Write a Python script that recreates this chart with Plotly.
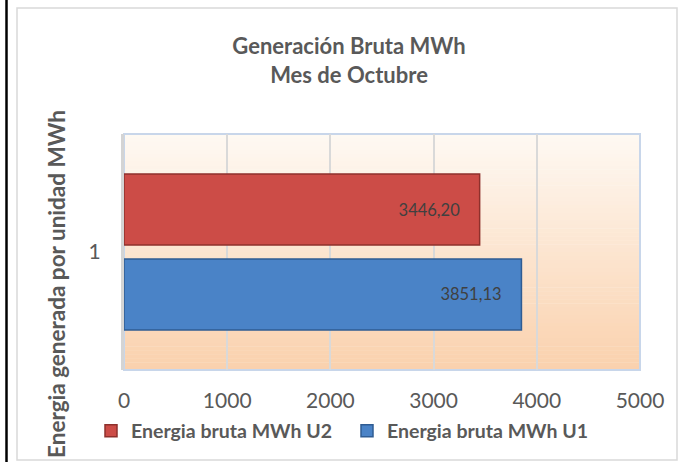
import plotly.graph_objects as go

categories = ["1"]
series_names = ["Energia bruta MWh U1", "Energia bruta MWh U2"]
u1_values = [3851.13]
u2_values = [3446.20]
x_ticks = [0, 1000, 2000, 3000, 4000, 5000]

title_text = "Generación Bruta MWh<br>Mes de Octubre"
y_title = "Energia generada por unidad MWh"

W, H = 679, 462
L, R, T, B = 124, 640, 134, 370

def px(x):
    return (x - L) / (R - L)

def py(y):
    return (B - y) / (B - T)

fig = go.Figure()
fig.add_trace(go.Bar(
    y=categories, x=u1_values, name=series_names[0], orientation="h",
    marker=dict(color="#4a83c7", line=dict(color="#2f5c93", width=1.5)),
    texttemplate="%{x:.2f}\u00a0\u00a0\u00a0\u00a0", textposition="inside",
    insidetextanchor="end",
    textfont=dict(family="Lato", size=16.5, color="#404040"),
))
fig.add_trace(go.Bar(
    y=categories, x=u2_values, name=series_names[1], orientation="h",
    marker=dict(color="#cc4c47", line=dict(color="#8e302c", width=1.5)),
    texttemplate="%{x:.2f}\u00a0\u00a0\u00a0\u00a0", textposition="inside",
    insidetextanchor="end",
    textfont=dict(family="Lato", size=16.5, color="#404040"),
))

shapes = []
N = 60
c0 = (254, 249, 243)
c1 = (250, 209, 173)
for i in range(N):
    t = (i + 0.5) / N
    c = tuple(round(c0[k] + (c1[k] - c0[k]) * t) for k in range(3))
    shapes.append(dict(type="rect", xref="x domain", yref="y domain",
                       x0=0, x1=1, y0=1 - (i + 1) / N - 0.002, y1=1 - i / N,
                       fillcolor="rgb(%d,%d,%d)" % c, line=dict(width=0),
                       layer="below"))
shapes.append(dict(type="rect", xref="x domain", yref="y domain",
                   x0=0, x1=1, y0=0, y1=1,
                   line=dict(color="#c8d6ea", width=2), layer="below"))
shapes.append(dict(type="rect", xref="paper", yref="paper",
                   x0=px(17), x1=px(677), y0=py(460), y1=py(8),
                   line=dict(color="#d9d9d9", width=1.5), layer="below"))
shapes.append(dict(type="line", xref="paper", yref="paper",
                   x0=px(6.5), x1=px(6.5), y0=py(462), y1=py(0),
                   line=dict(color="#000000", width=2.5)))

annotations = [dict(text=y_title, textangle=-90, xref="paper", yref="paper",
                    x=px(56), y=py(284), xanchor="center", yanchor="middle",
                    showarrow=False,
                    font=dict(family="Lato", size=22.5, color="#595959", weight="bold"))]

fig.update_layout(
    width=W, height=H,
    margin=dict(l=L, r=W - R, t=T, b=H - B, autoexpand=False),
    paper_bgcolor="white",
    plot_bgcolor="white",
    separators=",.",
    barmode="group",
    bargap=0.28,
    bargroupgap=0.165,
    shapes=shapes,
    annotations=annotations,
    title=dict(text=title_text, x=px(349), xref="paper", xanchor="center",
               y=1 - 54 / H, yanchor="middle",
               font=dict(family="Lato", size=22, color="#595959", weight="bold")),
    legend=dict(orientation="h", x=px(91), xanchor="left", y=py(431), yanchor="middle",
                traceorder="reversed", font=dict(family="Lato", size=19.5, color="#595959", weight="bold"),
                itemwidth=30, entrywidth=211, entrywidthmode="pixels",
                bgcolor="rgba(0,0,0,0)"),
    xaxis=dict(range=[0, 5000], tickvals=x_ticks, showgrid=True, gridcolor="#d9d9d9",
               gridwidth=2, zeroline=False, showline=False, automargin=False,
               tickfont=dict(family="Lato", size=21, color="#595959"), ticks="",
               ticklabelstandoff=16),
    yaxis=dict(showline=True, linecolor="#d4d4d4", linewidth=3, ticks="", automargin=False,
               tickfont=dict(family="Lato", size=21, color="#595959"),
               ticklabelstandoff=16),
)

fig.write_html("out.html", config={"displayModeBar": False},
               post_script="document.body.style.margin='0';document.body.style.overflow='hidden';")
